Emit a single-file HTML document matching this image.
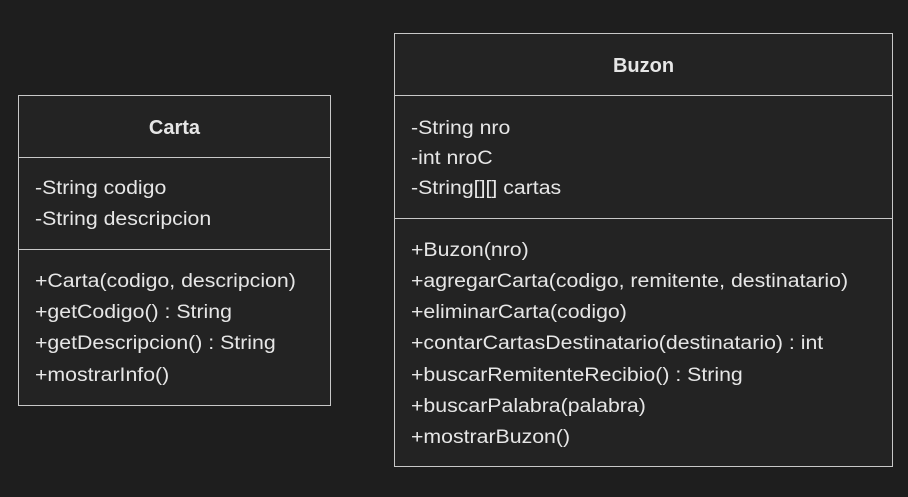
<!DOCTYPE html>
<html><head><style>
body{margin:0;width:908px;height:497px;background:#1e1e1e;position:relative;overflow:hidden;font-family:"Liberation Sans",sans-serif;color:#e6e6e6}
.box{position:absolute;background:#232323;border:1px solid #c8c8c8;box-sizing:border-box}
.hr{position:absolute;left:0;right:0;height:0;border-top:1px solid #c8c8c8}
.t{position:absolute;font-size:19px;white-space:nowrap;line-height:20px;transform:scaleX(1.12);transform-origin:0 0}
.h{font-weight:bold;width:100%;text-align:center;left:0;transform:none;font-size:20px}
</style></head><body>
<div class="box" style="left:18px;top:95px;width:313px;height:311px">
<div class="t h" style="top:22px">Carta</div>
<div class="hr" style="top:61px"></div>
<div class="t" style="left:16px;top:83px">-String codigo</div>
<div class="t" style="left:16px;top:114px">-String descripcion</div>
<div class="hr" style="top:153px"></div>
<div class="t" style="left:16px;top:176px">+Carta(codigo, descripcion)</div>
<div class="t" style="left:16px;top:207px">+getCodigo() : String</div>
<div class="t" style="left:16px;top:238px">+getDescripcion() : String</div>
<div class="t" style="left:16px;top:270px">+mostrarInfo()</div>
</div>
<div class="box" style="left:394px;top:33px;width:499px;height:434px">
<div class="t h" style="top:22px">Buzon</div>
<div class="hr" style="top:61px"></div>
<div class="t" style="left:16px;top:85px">-String nro</div>
<div class="t" style="left:16px;top:115px">-int nroC</div>
<div class="t" style="left:16px;top:145px">-String[][] cartas</div>
<div class="hr" style="top:184px"></div>
<div class="t" style="left:16px;top:207px">+Buzon(nro)</div>
<div class="t" style="left:16px;top:238px">+agregarCarta(codigo, remitente, destinatario)</div>
<div class="t" style="left:16px;top:269px">+eliminarCarta(codigo)</div>
<div class="t" style="left:16px;top:300px">+contarCartasDestinatario(destinatario) : int</div>
<div class="t" style="left:16px;top:332px">+buscarRemitenteRecibio() : String</div>
<div class="t" style="left:16px;top:363px">+buscarPalabra(palabra)</div>
<div class="t" style="left:16px;top:394px">+mostrarBuzon()</div>
</div>
</body></html>
